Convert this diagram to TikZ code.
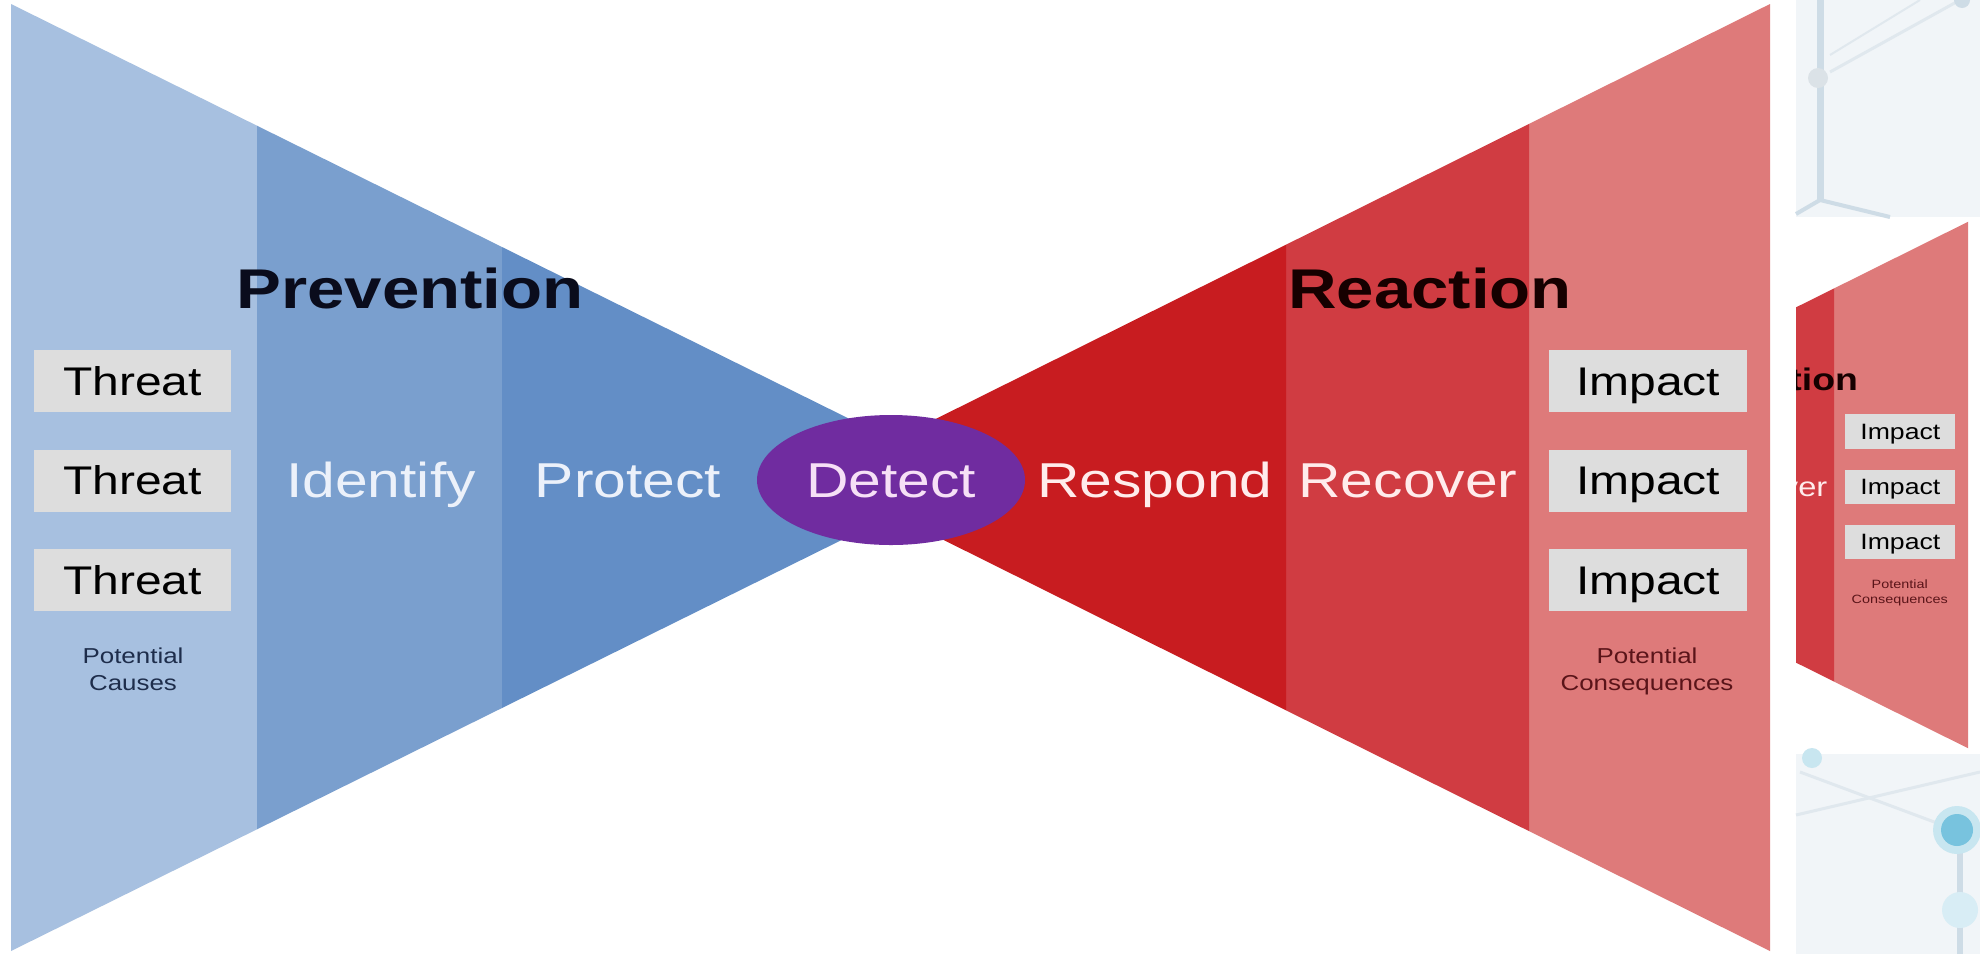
\documentclass[tikz,border=0pt]{standalone}
\usepackage{fontspec}
\setmainfont{Liberation Sans}
\usepackage{graphicx}
\usetikzlibrary{shapes.geometric}
\definecolor{bluelight}{RGB}{167,192,224}
\definecolor{bluemid}{RGB}{122,159,206}
\definecolor{bluedark}{RGB}{99,142,198}
\definecolor{reddark}{RGB}{200,28,32}
\definecolor{redmid}{RGB}{208,60,66}
\definecolor{redlight}{RGB}{222,122,122}
\definecolor{detectpurple}{RGB}{112,44,160}
\definecolor{boxgray}{RGB}{221,221,221}
\definecolor{phaseblue}{RGB}{236,241,250}
\definecolor{phasered}{RGB}{255,236,236}
\definecolor{detecttext}{RGB}{246,224,246}
\definecolor{causetext}{RGB}{30,45,75}
\definecolor{consqtext}{RGB}{90,20,25}
\definecolor{titleblue}{RGB}{10,12,28}
\definecolor{titlered}{RGB}{22,0,0}
\definecolor{netbg}{RGB}{241,245,248}
\definecolor{netline}{RGB}{206,220,230}
\definecolor{netfaint}{RGB}{224,232,238}
\definecolor{netdot}{RGB}{120,195,222}
\definecolor{netglow}{RGB}{200,230,240}
\newcommand\widetext[1]{\scalebox{1.2}[1]{#1}}
\tikzset{
  boxlbl/.style={fill=boxgray, minimum width=99pt, minimum height=31pt, inner sep=0pt,
    text height=14.3pt, text depth=0pt, font=\fontsize{20}{24}\selectfont, text=black},
  miniboxlbl/.style={fill=boxgray, minimum width=55pt, minimum height=17.2pt, inner sep=0pt,
    text height=7.95pt, text depth=0pt, font=\fontsize{11.1}{13}\selectfont, text=black},
  phase/.style={inner sep=0pt, text height=17.5pt, text depth=0pt,
    font=\fontsize{24.5}{29}\selectfont},
  bigtitle/.style={anchor=base, inner sep=0pt, font=\bfseries\fontsize{28}{34}\selectfont},
  note/.style={anchor=base, inner sep=0pt, font=\fontsize{10.8}{13}\selectfont},
  mininote/.style={anchor=base, inner sep=0pt, font=\fontsize{6}{7}\selectfont},
}
% bands of the reaction (red) half
\newcommand\reactionbands{%
  \fill[redlight] (1529,123.9) -- (1770,4) -- (1770,951) -- (1529,831.1) -- cycle;
  \fill[redmid] (1286,244.7) -- (1529,123.9) -- (1529,831.1) -- (1286,710.3) -- cycle;
  \fill[reddark] (818,477.5) -- (1286,244.7) -- (1286,710.3) -- cycle;
}
\begin{document}
\begin{tikzpicture}[x=0.5pt,y=-0.5pt]
\useasboundingbox (0,0) rectangle (1980,954);
\fill[white] (0,0) rectangle (1980,954);

% ---- prevention (blue) half
\fill[bluelight] (11,4) -- (257,125.7) -- (257,829.3) -- (11,951) -- cycle;
\fill[bluemid] (257,125.7) -- (502,247) -- (502,708) -- (257,829.3) -- cycle;
\fill[bluedark] (502,247) -- (968,477.5) -- (502,708) -- cycle;

% ---- reaction (red) half
\reactionbands

% ---- centre
\node[ellipse, fill=detectpurple, minimum width=134pt, minimum height=65pt, inner sep=0pt] (detectbg) at (891,480) {};
\node[phase, text=detecttext] (detect) at (891,480) {\widetext{Detect}};

% ---- prevention texts
\node[bigtitle, text=titleblue] (prev) at (410,308) {\widetext{Prevention}};
\node[phase, text=phaseblue] (identify) at (381,480) {\widetext{Identify}};
\node[phase, text=phaseblue] (protect) at (628,480) {\widetext{Protect}};
\node[boxlbl, minimum width=98.5pt] (thr1) at (132.5,381) {\widetext{Threat}};
\node[boxlbl, minimum width=98.5pt] (thr2) at (132.5,480.5) {\widetext{Threat}};
\node[boxlbl, minimum width=98.5pt] (thr3) at (132.5,580) {\widetext{Threat}};
\node[note, text=causetext] (pca1) at (133,663) {\widetext{Potential}};
\node[note, text=causetext] (pca2) at (133,690) {\widetext{Causes}};

% ---- reaction texts
\node[bigtitle, text=titlered] (react) at (1430,308) {\widetext{Reaction}};
\node[phase, text=phasered] (respond) at (1155,480) {\widetext{Respond}};
\node[phase, text=phasered] (recover) at (1408,480) {\widetext{Recover}};
\node[boxlbl] (imp1) at (1648,381) {\widetext{Impact}};
\node[boxlbl] (imp2) at (1648,480.5) {\widetext{Impact}};
\node[boxlbl] (imp3) at (1648,580) {\widetext{Impact}};
\node[note, text=consqtext] (potc1) at (1647,663) {\widetext{Potential}};
\node[note, text=consqtext] (potc2) at (1647,690) {\widetext{Consequences}};

% ---- right strip: background pieces
\fill[netbg] (1796,0) rectangle (1980,217);
\draw[netfaint, line width=1.5pt] (1830,72) -- (1960,0);
\draw[netfaint, line width=1pt] (1830,55) -- (1920,0);
\draw[netline, line width=3.5pt] (1820,0) -- (1820,200);
\draw[netline, line width=2pt] (1820,200) -- (1796,214);
\draw[netline, line width=2pt] (1820,200) -- (1890,217);
\fill[netline!85!gray!60] (1818,78) circle (5pt);
\fill[netline] (1962,0) circle (4pt);

\fill[netbg] (1796,754) rectangle (1980,954);
\draw[netfaint, line width=1.5pt] (1800,772) -- (1945,826);
\draw[netfaint, line width=1.5pt] (1796,815) -- (1980,772);
\draw[netline, line width=3pt] (1960,846) -- (1960,954);
\fill[netglow] (1957,830) circle (12pt);
\fill[netdot] (1957,830) circle (8pt);
\fill[netglow!70!white] (1960,910) circle (9pt);
\fill[netglow] (1812,758) circle (5pt);

% ---- right strip: reduced, cut-off copy of the reaction half
\begin{scope}
  \clip (1796,219) rectangle (1980,752);
  \begin{scope}[shift={(984,219.5)}, scale=0.556]
    \reactionbands
  \end{scope}
  \node[anchor=base east, inner sep=0pt, text=titlered, font=\bfseries\fontsize{15.57}{18}\selectfont] (mreact) at (1858.3,390.7) {\widetext{tion}};
  \node[anchor=base east, inner sep=0pt, text=phasered, font=\fontsize{13.6}{16}\selectfont] (mrecover) at (1827.7,496.1) {\widetext{ver}};
\end{scope}
\node[miniboxlbl] (mimp1) at (1900.3,431.3) {\widetext{Impact}};
\node[miniboxlbl] (mimp2) at (1900.3,486.7) {\widetext{Impact}};
\node[miniboxlbl] (mimp3) at (1900.3,542) {\widetext{Impact}};
\node[mininote, text=consqtext] (mpotc1) at (1899.7,588.1) {\widetext{Potential}};
\node[mininote, text=consqtext] (mpotc2) at (1899.7,603.1) {\widetext{Consequences}};
\end{tikzpicture}
\end{document}
